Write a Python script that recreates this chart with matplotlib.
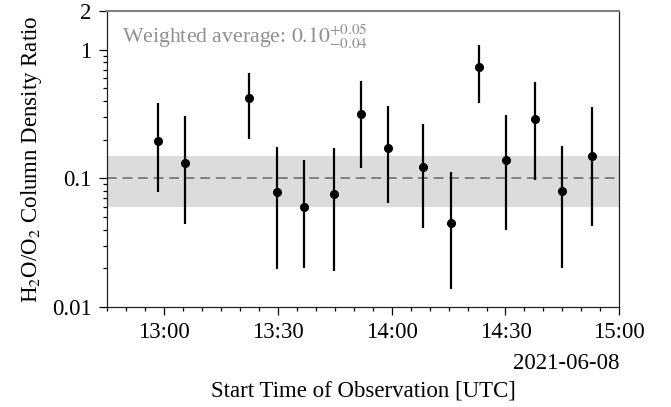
import matplotlib
matplotlib.use("Agg")
import matplotlib.pyplot as plt
import matplotlib.dates as mdates
import matplotlib.ticker as mticker
import numpy as np
import pandas as pd

plt.rcParams['font.family'] = ['Liberation Serif', 'DejaVu Serif']
plt.rcParams['mathtext.fontset'] = 'stix'

# --- data ---
start_times = ["12:58:24", "13:05:36", "13:22:18", "13:29:54", "13:36:54",
               "13:44:42", "13:51:54", "13:59:00", "14:08:18", "14:15:42",
               "14:23:00", "14:30:06", "14:37:42", "14:45:00", "14:52:48"]
ratio = [0.196, 0.132, 0.421, 0.078, 0.060, 0.076, 0.316, 0.171, 0.123,
         0.045, 0.734, 0.138, 0.291, 0.080, 0.149]
upper = [0.387, 0.305, 0.655, 0.174, 0.140, 0.171, 0.571, 0.363, 0.264,
         0.112, 1.08, 0.312, 0.558, 0.178, 0.360]
lower = [0.078, 0.044, 0.202, 0.0196, 0.0202, 0.0191, 0.1196, 0.0646, 0.0413,
         0.0137, 0.387, 0.0396, 0.097, 0.020, 0.0426]
obs_date = "2021-06-08"
avg = 0.10
avg_plus = 0.05
avg_minus = 0.04
x_start = "12:45:00"
x_end = "15:00:00"
y_ticks = [0.01, 0.1, 1, 2]
y_ticklabels = ["0.01", "0.1", "1", "2"]

times = pd.to_datetime([f"{obs_date} {t}" for t in start_times])
ratio = np.array(ratio)
yerr = np.vstack([ratio - np.array(lower), np.array(upper) - ratio])

fig = plt.figure(figsize=(6.71, 4.07), dpi=100)
ax = fig.add_axes([0.1595, 0.2457, 0.7635, 0.7273])

xlo = pd.Timestamp(f"{obs_date} {x_start}")
xhi = pd.Timestamp(f"{obs_date} {x_end}")

ax.axhspan(avg - avg_minus, avg + avg_plus, color='#dcdcdc', zorder=0, lw=0)
ax.axhline(avg, color='#808080', ls=(0, (5, 3)), lw=1.4, zorder=1)

ax.errorbar(times, ratio, yerr=yerr, fmt='o', color='black', ms=5.5,
            elinewidth=1.6, capsize=0, zorder=3)

ax.set_yscale('log')
ax.set_ylim(0.01, 2)
ax.set_xlim(xlo, xhi)
ax.set_yticks(y_ticks)
ax.set_yticklabels(y_ticklabels)
ax.yaxis.set_minor_locator(mticker.LogLocator(base=10, subs=np.arange(2, 10), numticks=20))
ax.yaxis.set_minor_formatter(mticker.NullFormatter())

ax.xaxis.set_major_locator(mdates.MinuteLocator(byminute=[0, 30]))
ax.xaxis.set_minor_locator(mdates.MinuteLocator(byminute=range(0, 60, 5)))
ax.xaxis.set_major_formatter(mdates.DateFormatter('%H:%M'))

ax.tick_params(which='major', length=6, width=0.9, labelsize=16.5, pad=5)
ax.tick_params(which='minor', length=3, width=0.9)

for s in ['left', 'right', 'bottom']:
    ax.spines[s].set_color('#222222')
    ax.spines[s].set_linewidth(0.9)
ax.spines['top'].set_color('#808080')
ax.spines['top'].set_linewidth(1.5)

ax.text(1.0, -0.19, obs_date, transform=ax.transAxes, ha='right', va='center',
        fontsize=16.5)
ax.set_xlabel("Start Time of Observation [UTC]", fontsize=16.5, labelpad=27)
ax.set_ylabel(r"H$_2$O/O$_2$ Column Density Ratio", fontsize=16.5, labelpad=6)

ax.text(0.03, 0.96,
        rf"Weighted average: ${avg:.2f}^{{+{avg_plus:.2f}}}_{{-{avg_minus:.2f}}}$",
        transform=ax.transAxes, ha='left', va='top', fontsize=15.7, color='#909090')

fig.savefig("out.png", dpi=100)
